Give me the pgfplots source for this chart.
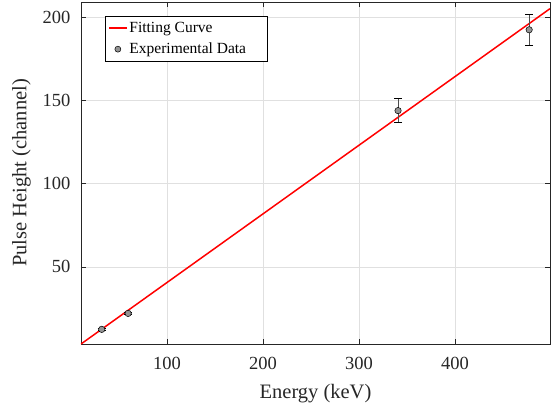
\documentclass[border=0pt]{standalone}
\usepackage{fontspec}
\setmainfont{Liberation Serif}
\usepackage{pgfplots}
\pgfplotsset{compat=1.18}
\definecolor{axgray}{rgb}{0.15,0.15,0.15}
\definecolor{gridgray}{rgb}{0.88,0.88,0.88}
\begin{document}
\begin{tikzpicture}
\begin{axis}[
  scale only axis,
  width=469pt, height=342pt,
  xmin=10.4, xmax=499, ymin=3.6, ymax=209.2,
  xtick={100,200,300,400}, ytick={50,100,150,200},
  tick align=inside,
  major tick length=5pt,
  tick style={axgray, line width=0.5pt},
  axis line style={axgray, line width=0.6pt},
  grid=major,
  major grid style={gridgray, line width=0.6pt},
  /pgf/number format/assume math mode=true,
  ticklabel style={font=\fontsize{18.5}{18.5}\selectfont, text=axgray},
  xticklabel style={yshift=-10pt},
  yticklabel style={xshift=-7pt},
  xlabel={Energy (keV)},
  ylabel={Pulse Height (channel)},
  label style={font=\fontsize{20.5}{20.5}\selectfont, text=axgray},
  xlabel style={yshift=-7pt},
  ylabel style={yshift=5pt},
  legend style={at={(axis cs:35.4,200.8)}, anchor=north west, font=\fontsize{15.5}{16}\selectfont,
    draw=black, line width=0.6pt, inner xsep=3pt, inner ysep=4pt, row sep=5pt},
  legend cell align=left,
]
\addplot[red, line width=1.5pt,
  legend image code/.code={\draw[red, line width=1.5pt] (0pt,0pt) -- (0.62cm,0pt);}] coordinates {(10.4,3.6) (499,205.2)};
\addlegendentry{Fitting Curve}
\addplot[only marks, mark=*, mark size=3.2pt,
  mark options={fill=gray!85, draw=black, line width=0.5pt},
  legend image code/.code={\draw[mark=*, mark size=3pt, mark options={fill=gray!85, draw=black, line width=0.5pt}] plot coordinates {(0.31cm,0pt)};},
  error bars/.cd, y dir=both, y explicit,
  error bar style={black!70, line width=0.6pt},
  error mark options={rotate=90, mark size=4pt, black, line width=0.5pt}]
  coordinates {
  (32,12.4) +- (0,0.8)
  (59.5,22) +- (0,0.8)
  (340.7,143.9) +- (0,7.2)
  (477.3,192.5) +- (0,9.5)
  };
\addlegendentry{Experimental Data\rule{16pt}{0pt}}
\end{axis}
\path ([shift={(-81pt,-59pt)}]current axis.south west) rectangle ([shift={(8pt,2pt)}]current axis.north east);
\end{tikzpicture}
\end{document}
